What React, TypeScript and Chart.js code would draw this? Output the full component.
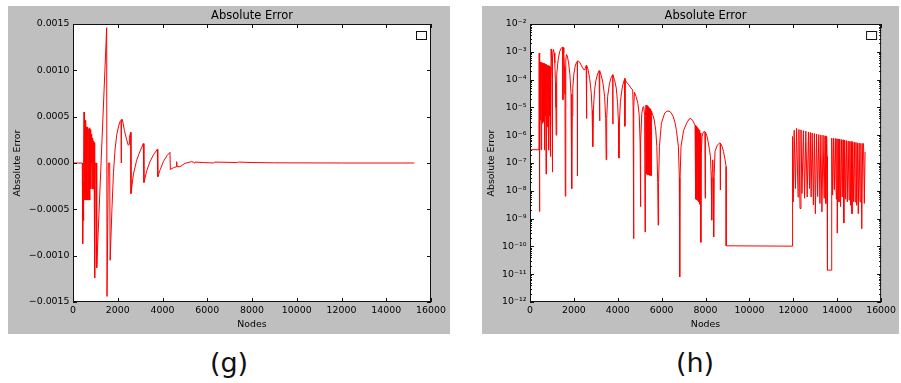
import React, { useEffect, useRef } from 'react';
import { Chart, registerables } from 'chart.js';

Chart.register(...registerables);

// ---------- data ----------
// (g): signed error vs. nodes  [node, error]
const gPoints: [number, number][] = [
  [0, 0], [415, 0], [433, -0.00087], [450, -0.0002], [470, -0.00062], [480, 0], [492, 0.00055],
  [505, -0.0004], [515, 0.00046], [528, -0.0001], [540, 0.00046], [552, -0.0004], [565, 0.0004],
  [578, 0.0001], [590, 0.00039], [602, -0.0004], [615, 0.00035], [628, -0.0002], [640, 0.00039],
  [652, -0.0004], [665, 0.00038], [678, 0.00005], [690, 0.00037], [702, -0.0004], [715, 0.00033],
  [728, -0.0003], [740, 0.00038], [752, -0.0004], [765, 0.00036], [778, -0.0001], [790, 0.00032],
  [802, -0.00028], [815, 0.00031], [828, 0], [840, 0.0003], [852, -0.00028], [865, 0.00027],
  [878, -0.0002], [890, 0.00027], [902, -0.00028], [915, 0.00024], [928, 0], [940, 0.00022],
  [952, -0.00028], [965, 0.00021], [975, 0],
  [983, -0.00124], [1000, 0], [1045, 0], [1060, -0.00113], [1505, 0.00146], [1520, -0.00144],
  [1580, 0], [1640, 0], [1660, -0.00105], [1740, -0.0005], [1810, -0.0001], [1880, 0.00015],
  [1960, 0.00031], [2040, 0.0004], [2110, 0.00045], [2150, 0.00046], [2155, 0], [2165, 0.00047],
  [2205, 0.00047], [2300, 0.00035], [2400, 0.00025], [2473, 0.00019], [2515, 0.0002], [2520, 0.00028],
  [2577, 0.00033], [2592, -0.00033], [2700, -0.00012], [2845, 0.00003], [3000, 0.00013], [3143, 0.00021],
  [3170, -0.00021], [3300, -0.00008], [3441, 0.000014], [3600, 0.00009], [3770, 0.000148], [3790, -0.000148],
  [3900, -0.00007], [4037, 0.000014], [4200, 0.00008], [4335, 0.000115], [4350, -0.00007], [4500, -0.00005],
  [4620, -0.00004], [4634, 0.000014], [4650, -0.00004], [4782, -0.00004], [5005, -0.000004], [5229, 0.00001],
  [5300, 0.000015], [5377, 0.00001], [5420, 0], [5450, 0.00001], [5824, 0.000005], [6270, 0],
  [6346, 0.00001], [7316, 0.000005], [7400, 0.00001], [8000, 0.000005], [9000, 0.000002], [12000, 0],
  [15250, 0],
];

// (h): absolute error (log scale) vs. nodes  [node, |error|]
const hPoints: [number, number][] = [
  [0, 3e-7], [410, 3e-7], [420, 9e-4], [430, 1.8e-9], [440, 8e-4],
  [450, 4.4e-4], [458, 3.5e-6], [466, 4.3e-4], [474, 2.5e-5], [482, 4.3e-4], [490, 8e-6], [498, 4.2e-4],
  [506, 3e-7], [514, 4.2e-4], [522, 1.5e-5], [530, 4.1e-4], [538, 2e-5], [546, 4.1e-4], [554, 3.2e-5],
  [562, 4.0e-4], [570, 9e-6], [578, 4.0e-4], [586, 2.7e-6], [594, 3.9e-4], [602, 1.2e-5], [610, 3.9e-4],
  [618, 3.1e-6], [626, 3.8e-4], [634, 1.8e-5], [642, 3.8e-4], [650, 6e-6], [658, 3.7e-4], [666, 2.9e-7],
  [674, 3.7e-4], [682, 1.4e-5], [690, 3.6e-4], [698, 5e-6], [706, 3.6e-4], [714, 2.2e-5], [722, 3.5e-4],
  [730, 4e-8], [738, 3.5e-4], [746, 1e-5], [754, 3.4e-4], [762, 1.5e-6], [770, 3.4e-4], [778, 2e-6],
  [786, 3.3e-4], [794, 1.6e-5], [802, 3.3e-4], [810, 4e-5], [818, 3.2e-4], [826, 9e-6], [834, 2.5e-5],
  [842, 3.2e-4], [850, 7e-6], [858, 3.1e-4], [864, 2.9e-7], [872, 3.1e-4], [880, 1.2e-5], [888, 3.0e-4],
  [896, 5e-6], [904, 3.0e-4], [912, 1.5e-5], [920, 2.9e-4], [926, 2e-6], [934, 2.9e-4], [942, 1.7e-7],
  [950, 2.8e-4], [956, 2e-6],
  [962, 1.26e-3], [975, 1.2e-3], [995, 6e-4], [1012, 1e-4], [1020, 4.7e-8], [1030, 6e-4], [1050, 1.1e-3],
  [1073, 1.2e-3], [1100, 9e-4], [1130, 4e-4], [1160, 8e-5], [1180, 1e-5], [1192, 1e-6], [1205, 1.5e-5],
  [1230, 1.5e-4], [1280, 5e-4], [1350, 1e-3], [1420, 1.35e-3], [1490, 1.47e-3], [1500, 1.9e-5],
  [1510, 1.4e-3], [1540, 9e-4], [1570, 3e-4], [1595, 3e-5], [1609, 6.4e-9], [1622, 1e-4], [1640, 5e-4],
  [1665, 8e-4], [1700, 7e-4], [1760, 4e-4], [1820, 1.5e-4], [1870, 3e-5], [1895, 3e-6], [1907, 1.2e-8],
  [1920, 5e-6], [1950, 5e-5], [2000, 1.6e-4], [2060, 3e-4], [2120, 4.2e-4], [2158, 4.5e-4], [2160, 3.4e-8],
  [2165, 4.6e-4], [2205, 4.7e-4], [2280, 4e-4], [2380, 2.8e-4], [2470, 2.2e-4], [2520, 2.5e-4],
  [2560, 3.2e-4], [2577, 3.3e-4], [2580, 4e-6], [2590, 3.2e-4], [2650, 2.2e-4], [2720, 1.1e-4],
  [2790, 3.5e-5], [2830, 8e-6], [2860, 3.9e-7], [2890, 8e-6], [2940, 4e-5], [3000, 9e-5], [3080, 1.6e-4],
  [3150, 2.1e-4], [3173, 2.1e-4], [3178, 3.3e-6], [3185, 2e-4], [3250, 1.4e-4], [3330, 7e-5],
  [3400, 2.5e-5], [3450, 4e-6], [3471, 1.3e-7], [3495, 4e-6], [3540, 2.5e-5], [3620, 7e-5], [3700, 1.2e-4],
  [3769, 1.5e-4], [3775, 2.5e-6], [3782, 1.45e-4], [3850, 1e-4], [3930, 5e-5], [3990, 1.5e-5], [4030, 3e-6],
  [4052, 1.5e-7], [4075, 3e-6], [4120, 1.6e-5], [4200, 5e-5], [4270, 8.5e-5], [4320, 1.1e-4],
  [4325, 2.1e-6], [4332, 1e-4], [4400, 8e-5], [4500, 6.5e-5], [4600, 5e-5], [4680, 4.3e-5], [4700, 1e-5],
  [4720, 1.9e-10], [4735, 1e-5], [4760, 3.5e-5], [4830, 2.5e-5], [4916, 1.4e-5], [4980, 5e-6],
  [5020, 5e-7], [5035, 2.7e-9], [5050, 6e-7], [5095, 6e-6], [5140, 1e-5], [5184, 1.07e-5], [5225, 5e-6],
  [5243, 3.3e-10], [5260, 5e-6], [5288, 1.2e-5],
  [5300, 4e-8], [5312, 1.2e-5], [5324, 4e-8], [5336, 1.15e-5], [5348, 4e-8], [5360, 1.1e-5],
  [5372, 3.8e-8], [5384, 1.05e-5], [5396, 3.8e-8], [5408, 1e-5], [5420, 3.7e-8], [5432, 9.5e-6],
  [5444, 3.7e-8], [5456, 9e-6], [5468, 3.6e-8], [5480, 8.5e-6], [5492, 3.6e-8], [5504, 8e-6],
  [5516, 3.5e-8], [5528, 7.5e-6], [5540, 3.5e-8], [5556, 7e-6],
  [5610, 5e-6], [5662, 3.5e-6], [5730, 1.5e-6], [5780, 3.9e-7], [5820, 2e-8], [5840, 5.8e-10],
  [5860, 2e-8], [5899, 3.9e-7], [5988, 2.7e-6], [6137, 6.2e-6], [6240, 7.3e-6], [6331, 7.4e-6],
  [6430, 6.5e-6], [6525, 4.7e-6], [6600, 3e-6], [6674, 1.5e-6], [6763, 3.9e-7], [6805, 3e-8],
  [6823, 8e-12], [6840, 3e-8], [6882, 3.9e-7], [7001, 1.5e-6], [7150, 2.8e-6], [7250, 3.8e-6],
  [7329, 4e-6], [7420, 3.3e-6], [7522, 2.3e-6],
  [7535, 5e-9], [7548, 2.2e-6], [7561, 5e-9], [7574, 2.1e-6], [7587, 4.8e-9], [7600, 2e-6],
  [7613, 4.8e-9], [7626, 1.9e-6], [7639, 4.5e-9], [7652, 1.8e-6], [7665, 4.5e-9], [7678, 1.7e-6],
  [7691, 4e-9], [7704, 1.5e-6], [7717, 3.5e-9], [7730, 1.3e-6], [7746, 3.3e-9], [7760, 1.2e-6],
  [7780, 2e-7], [7791, 1.4e-10], [7805, 2e-7], [7840, 9e-7], [7900, 1.3e-6], [7969, 1.35e-6],
  [7985, 5.4e-9], [7995, 1.3e-6], [8050, 1e-6], [8103, 6.8e-7], [8180, 3e-7], [8223, 1.7e-7],
  [8260, 3e-8], [8282, 8.8e-10], [8300, 5e-8], [8327, 1.3e-7], [8350, 3e-8], [8371, 2.2e-10],
  [8390, 3e-8], [8432, 2.6e-7], [8536, 4.4e-7], [8640, 5.2e-7], [8670, 5.2e-7], [8672, 1.07e-8],
  [8680, 5.1e-7], [8750, 4e-7], [8819, 2.6e-7], [8890, 1.3e-7], [8938, 7.4e-8], [8940, 1.05e-10],
  [11963, 1.02e-10],
  [11966, 9e-7], [11995, 4e-9], [12040, 1.5e-6], [12096, 1.2e-8], [12150, 1.75e-6], [12215, 6e-9],
  [12255, 1.6e-6], [12305, 2.3e-9], [12350, 1.55e-6], [12394, 8e-9], [12460, 1.45e-6], [12513, 5.4e-9],
  [12570, 1.4e-6], [12632, 6e-9], [12690, 1.3e-6], [12737, 1.2e-8], [12775, 1.25e-6], [12811, 6e-9],
  [12860, 1.2e-6], [12915, 3.1e-9], [12960, 1.15e-6], [13005, 1.5e-9], [13060, 1.1e-6], [13109, 6.2e-9],
  [13160, 1.05e-6], [13214, 3.5e-9], [13255, 1.02e-6], [13303, 1.75e-9], [13355, 1e-6], [13407, 5.4e-9],
  [13445, 9.5e-7], [13482, 3.5e-9], [13520, 9e-7], [13540, 1.7e-7], [13556, 1.4e-11], [13735, 1.4e-11],
  [13750, 7.8e-7],
  [13790, 7e-9], [13830, 7.8e-7], [13870, 1.1e-8], [13915, 7.6e-7], [13960, 5e-9], [13985, 7.5e-7],
  [14003, 3e-10], [14040, 7.3e-7], [14080, 4e-9], [14115, 7.2e-7], [14152, 2.7e-9], [14190, 7e-7],
  [14230, 6e-9], [14265, 6.8e-7], [14301, 7e-10], [14340, 6.6e-7], [14380, 5e-9], [14420, 6.4e-7],
  [14460, 4e-9], [14500, 6.2e-7], [14540, 4.7e-9], [14575, 6e-7], [14610, 3e-9], [14640, 5.9e-7],
  [14673, 1.5e-9], [14710, 5.8e-7], [14750, 4e-9], [14785, 5.6e-7], [14822, 4e-9], [14855, 5.5e-7],
  [14890, 3e-9], [14925, 5.3e-7], [14960, 1.5e-9], [15000, 5.2e-7], [15040, 4e-9], [15080, 5.1e-7],
  [15120, 4.3e-10], [15160, 5e-7], [15200, 5e-7], [15235, 3.5e-9], [15270, 2.5e-7],
];

// ---------- ticks and labels ----------
const xTicks = [0, 2000, 4000, 6000, 8000, 10000, 12000, 14000, 16000];
const xLabels = ['0', '2000', '4000', '6000', '8000', '10000', '12000', '14000', '16000'];
const gYTicks = [-0.0015, -0.001, -0.0005, 0, 0.0005, 0.001, 0.0015];
const gYLabels = ['\u22120.0015', '\u22120.0010', '\u22120.0005', '0.0000', '0.0005', '0.0010', '0.0015'];
const hYTicks = [1e-12, 1e-11, 1e-10, 1e-9, 1e-8, 1e-7, 1e-6, 1e-5, 1e-4, 1e-3, 1e-2];
const hYLabels = ['10⁻¹²', '10⁻¹¹', '10⁻¹⁰', '10⁻⁹', '10⁻⁸', '10⁻⁷', '10⁻⁶', '10⁻⁵', '10⁻⁴', '10⁻³', '10⁻²'];
const chartTitle = 'Absolute Error';
const xTitle = 'Nodes';
const yTitle = 'Absolute Error';
const panelLabels = ['(g)', '(h)'];

const FAMILY = '"DejaVu Sans", Verdana, sans-serif';
const TICK_FONT = { family: FAMILY, size: 9.4 };

const mplPlugin = {
  id: 'mplFrame',
  beforeDraw(chart: any) {
    const { ctx, chartArea: a } = chart;
    ctx.save();
    ctx.fillStyle = '#bfbfbf';
    ctx.fillRect(0, 0, chart.width, chart.height);
    ctx.fillStyle = '#ffffff';
    ctx.fillRect(a.left, a.top, a.right - a.left, a.bottom - a.top);
    ctx.restore();
  },
  afterDraw(chart: any, _args: any, opts: any) {
    const { ctx, chartArea: a, scales } = chart;
    const xs = scales.x;
    const ys = scales.y;
    ctx.save();
    ctx.strokeStyle = '#111';
    ctx.lineWidth = 1;
    ctx.beginPath();
    const major = 4;
    const minor = 2;
    xs.ticks.forEach((t: any) => {
      const p = Math.round(xs.getPixelForValue(t.value)) + 0.5;
      ctx.moveTo(p, a.bottom); ctx.lineTo(p, a.bottom - major);
      ctx.moveTo(p, a.top); ctx.lineTo(p, a.top + major);
    });
    ys.ticks.forEach((t: any) => {
      const p = Math.round(ys.getPixelForValue(t.value)) + 0.5;
      ctx.moveTo(a.left, p); ctx.lineTo(a.left + major, p);
      ctx.moveTo(a.right, p); ctx.lineTo(a.right - major, p);
    });
    if (opts && opts.minor) {
      for (let e = -12; e < -2; e++) {
        for (let m = 2; m <= 9; m++) {
          const v = m * Math.pow(10, e);
          const p = Math.round(ys.getPixelForValue(v)) + 0.5;
          ctx.moveTo(a.left, p); ctx.lineTo(a.left + minor, p);
          ctx.moveTo(a.right, p); ctx.lineTo(a.right - minor, p);
        }
      }
    }
    ctx.stroke();
    // frame
    ctx.strokeRect(a.left + 0.5, a.top + 0.5, a.right - a.left - 1, a.bottom - a.top - 1);
    // empty legend box
    ctx.strokeRect(a.right - 15 + 0.5, a.top + 7 + 0.5, 10, 8);
    // title
    ctx.fillStyle = '#000';
    ctx.font = `11.5px ${FAMILY}`;
    ctx.textAlign = 'center';
    ctx.textBaseline = 'middle';
    ctx.fillText(chartTitle, (a.left + a.right) / 2, 10);
    ctx.restore();
  },
};

function buildConfig(points: [number, number][], log: boolean, yWidth: number, rightPad: number, yTitlePad: number): any {
  const yTicks = log ? hYTicks : gYTicks;
  const yLabels = log ? hYLabels : gYLabels;
  return {
    type: 'line',
    data: {
      datasets: [
        {
          data: points.map(([x, y]) => ({ x, y })),
          borderColor: '#ff0000',
          borderWidth: 1,
          pointRadius: 0,
          tension: 0,
          fill: false,
        },
      ],
    },
    options: {
      responsive: false,
      animation: false,
      events: [],
      parsing: false,
      normalized: true,
      layout: { padding: { left: 0, top: 18, right: rightPad, bottom: 0 } },
      plugins: {
        legend: { display: false },
        tooltip: { enabled: false },
        title: { display: false },
        mplFrame: { minor: log },
      },
      scales: {
        x: {
          type: 'linear',
          min: 0,
          max: 16000,
          afterBuildTicks: (s: any) => { s.ticks = xTicks.map((v) => ({ value: v })); },
          afterFit: (s: any) => { s.height = 32; },
          grid: { display: false, drawTicks: false },
          border: { display: false },
          ticks: {
            autoSkip: false,
            maxRotation: 0,
            padding: 3,
            color: '#000',
            font: TICK_FONT,
            callback: (_v: any, i: number) => xLabels[i],
          },
          title: { display: true, text: xTitle, color: '#000', font: TICK_FONT, padding: { top: 0, bottom: 4.2 } },
        },
        y: {
          type: log ? 'logarithmic' : 'linear',
          min: log ? 1e-12 : -0.0015,
          max: log ? 1e-2 : 0.0015,
          afterBuildTicks: (s: any) => { s.ticks = yTicks.map((v) => ({ value: v })); },
          afterFit: (s: any) => { s.width = yWidth; },
          grid: { display: false, drawTicks: false },
          border: { display: false },
          ticks: {
            autoSkip: false,
            padding: 3.5,
            color: '#000',
            font: TICK_FONT,
            callback: (_v: any, i: number) => yLabels[i],
          },
          title: { display: true, text: yTitle, color: '#000', font: TICK_FONT, padding: { top: yTitlePad, bottom: 0 } },
        },
      },
    },
    plugins: [mplPlugin],
  };
}

function Panel(props: { left: number; width: number; points: [number, number][]; log: boolean; yWidth: number; rightPad: number; yTitlePad: number }) {
  const ref = useRef<HTMLCanvasElement | null>(null);
  useEffect(() => {
    if (!ref.current) return;
    const chart = new Chart(ref.current, buildConfig(props.points, props.log, props.yWidth, props.rightPad, props.yTitlePad));
    return () => chart.destroy();
  }, []);
  return (
    <div style={{ position: 'absolute', left: props.left, top: 6, width: props.width, height: 328, background: '#bfbfbf' }}>
      <canvas ref={ref} width={props.width} height={328} style={{ display: 'block', width: props.width, height: 328 }} />
    </div>
  );
}

const labelStyle = (cx: number): React.CSSProperties => ({
  position: 'absolute',
  left: cx - 50,
  top: 349,
  width: 100,
  textAlign: 'center',
  fontFamily: FAMILY,
  fontSize: 27,
  lineHeight: '27px',
  color: '#111',
});

export default function App() {
  return (
    <div style={{ position: 'fixed', left: 0, top: 0, width: 901, height: 383, background: '#fff', overflow: 'hidden' }}>
      <Panel left={8} width={442} points={gPoints} log={false} yWidth={65} rightPad={19} yTitlePad={3.5} />
      <Panel left={482} width={417} points={hPoints} log={true} yWidth={48} rightPad={11} yTitlePad={4} />
      <div style={labelStyle(229)}>{panelLabels[0]}</div>
      <div style={labelStyle(695)}>{panelLabels[1]}</div>
    </div>
  );
}
